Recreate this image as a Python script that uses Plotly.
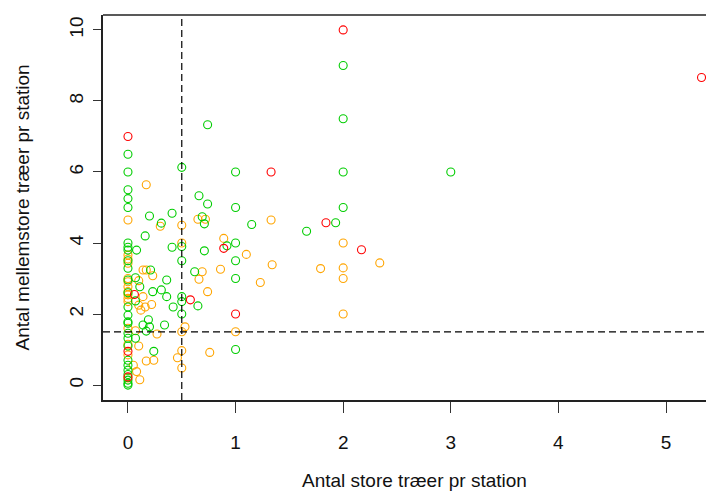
import plotly.graph_objects as go

# ---- data ----
green_x = [0, 0, 0.74, 0.5, 1, 2, 2, 2, 3, 0, 0, 0, 0.66, 0.74, 1, 2,
           0.2, 0.41, 0.31, 0.69, 0.71, 1.15, 1.93, 1.66, 0.16,
           0, 0, 0, 0.08, 0.41, 0.5, 0.92, 1, 0.71, 0.5, 1,
           0, 0.21, 0.62, 1, 0.07, 0, 0.36, 0.11, 0.23, 0.31, 0.36, 0.07,
           0.42, 0.5, 0.5, 0.65, 0.5, 0, 0, 0.19, 0, 0.14, 0.2, 0.17, 0.34,
           0, 0, 0.07, 0.24, 1, 0, 0, 0, 0, 0, 0, 0, 0, 0, 0, 0]
green_y = [6.5, 6.0, 7.33, 6.13, 6.0, 9.0, 7.5, 6.0, 6.0, 5.5, 5.25, 5.0, 5.33, 5.1, 5.0, 5.0,
           4.76, 4.84, 4.56, 4.74, 4.54, 4.52, 4.57, 4.33, 4.2,
           4.0, 3.88, 3.8, 3.8, 3.88, 3.9, 3.92, 4.0, 3.78, 3.5, 3.5,
           3.29, 3.24, 3.19, 3.0, 3.02, 2.96, 2.96, 2.77, 2.63, 2.68, 2.49, 2.37,
           2.2, 2.49, 2.35, 2.23, 2.0, 1.97, 1.78, 1.84, 1.74, 1.69, 1.64, 1.52, 1.69,
           1.46, 1.32, 1.32, 0.95, 1.0, 0.7, 0.56, 0.42, 0.3, 0.14, 0.0,
           3.5, 2.6, 2.2, 1.1, 0.05]

orange_x = [0.17, 0, 0.3, 0.5, 0.65, 0.72, 1.33, 0.89, 0.5, 2, 1.1, 1.34, 2.34,
            1.79, 2, 2, 1.23, 0.86, 0.69, 0.66, 0.74, 2, 1,
            0, 0, 0, 0.14, 0.17, 0.23, 0, 0, 0.1, 0, 0, 0, 0, 0, 0.14,
            0.1, 0.16, 0.22, 0.12, 0.53, 0.5, 0, 0.07, 0.27, 0, 0.1,
            0.5, 0.76, 0.46, 0.5, 0, 0.05, 0.17, 0.24, 0.08, 0.11, 0]
orange_y = [5.64, 4.65, 4.47, 4.5, 4.67, 4.67, 4.65, 4.13, 4.0, 4.0, 3.68, 3.39, 3.44,
            3.28, 3.3, 3.0, 2.89, 3.26, 3.19, 2.98, 2.63, 2.0, 1.5,
            3.66, 3.55, 3.43, 3.24, 3.24, 3.08, 3.0, 2.91, 2.94, 2.77, 2.63, 2.54, 2.44, 2.35, 2.49,
            2.25, 2.2, 2.27, 2.11, 1.64, 1.5, 1.6, 1.53, 1.44, 1.15, 1.1,
            0.97, 0.92, 0.77, 0.48, 0.85, 0.56, 0.68, 0.7, 0.38, 0.15, 0.2]

red_x = [0, 2, 5.33, 1.33, 1.84, 2.17, 0.89, 0.58, 1, 0.06, 0, 0]
red_y = [7.0, 10.0, 8.66, 6.0, 4.57, 3.81, 3.85, 2.4, 2.0, 2.55, 0.95, 0.23]

x_ticks = [0, 1, 2, 3, 4, 5]
y_ticks = [0, 2, 4, 6, 8, 10]
x_cut = 0.5
y_cut = 1.5

x_title = "Antal store træer pr station"
y_title = "Antal mellemstore træer pr station"

# ---- figure ----
# The page body has an 8px default margin, so the figure is 8px smaller
# and every pixel position below is given in figure coordinates (page - 8).
FONT = "Liberation Sans, Arial, sans-serif"
W, H = 706, 487
L, T, B = 95, 7, 95
PW, PH = W - L, H - T - B

fig = go.Figure()

def add(xs, ys, col):
    fig.add_trace(go.Scatter(
        x=xs, y=ys, mode="markers",
        marker=dict(symbol="circle-open", size=8, color=col, line=dict(width=1.1, color=col)),
        showlegend=False, hoverinfo="skip"))

add(orange_x, orange_y, "#FFA500")
add(green_x, green_y, "#00CD00")
add(red_x, red_y, "#FF0000")

fig.add_vline(x=x_cut, line=dict(color="black", width=1.2, dash="7px,4px"))
fig.add_hline(y=y_cut, line=dict(color="black", width=1.2, dash="7px,4px"))
# top border of the box (right side is cropped in the reference)
fig.add_shape(type="line", xref="paper", yref="paper", x0=0, x1=1, y0=1, y1=1,
              line=dict(color="#222", width=1.5))

fig.update_layout(
    width=W, height=H,
    margin=dict(l=L, r=0, t=T, b=B, autoexpand=False),
    paper_bgcolor="white", plot_bgcolor="white",
    font=dict(family=FONT, size=19, color="#111"),
    xaxis=dict(range=[-0.232, 5.446], tickvals=x_ticks, ticks="outside", ticklen=11,
               tickcolor="#333", tickwidth=1.2, showgrid=False, zeroline=False,
               showline=True, linecolor="#222", linewidth=1.5, mirror=False,
               ticklabelstandoff=13, tickfont=dict(size=19)),
    yaxis=dict(range=[-0.42, 10.42], tickvals=y_ticks, ticks="outside", ticklen=8,
               tickcolor="#333", tickwidth=1.2, showgrid=False, zeroline=False,
               showline=True, linecolor="#222", linewidth=1.5, mirror=False,
               tickangle=-90, ticklabelstandoff=3, tickfont=dict(size=19)),
    annotations=[
        dict(text=x_title, xref="paper", yref="paper", x=(414 - 103) / PW, y=(400 - 480) / PH,
             xanchor="center", yanchor="middle", showarrow=False, font=dict(size=19)),
        dict(text=y_title, xref="paper", yref="paper", x=(22 - 103) / PW, y=0.5,
             xanchor="center", yanchor="middle", showarrow=False, textangle=-90, font=dict(size=19)),
    ],
)

fig.write_html("out.html")
